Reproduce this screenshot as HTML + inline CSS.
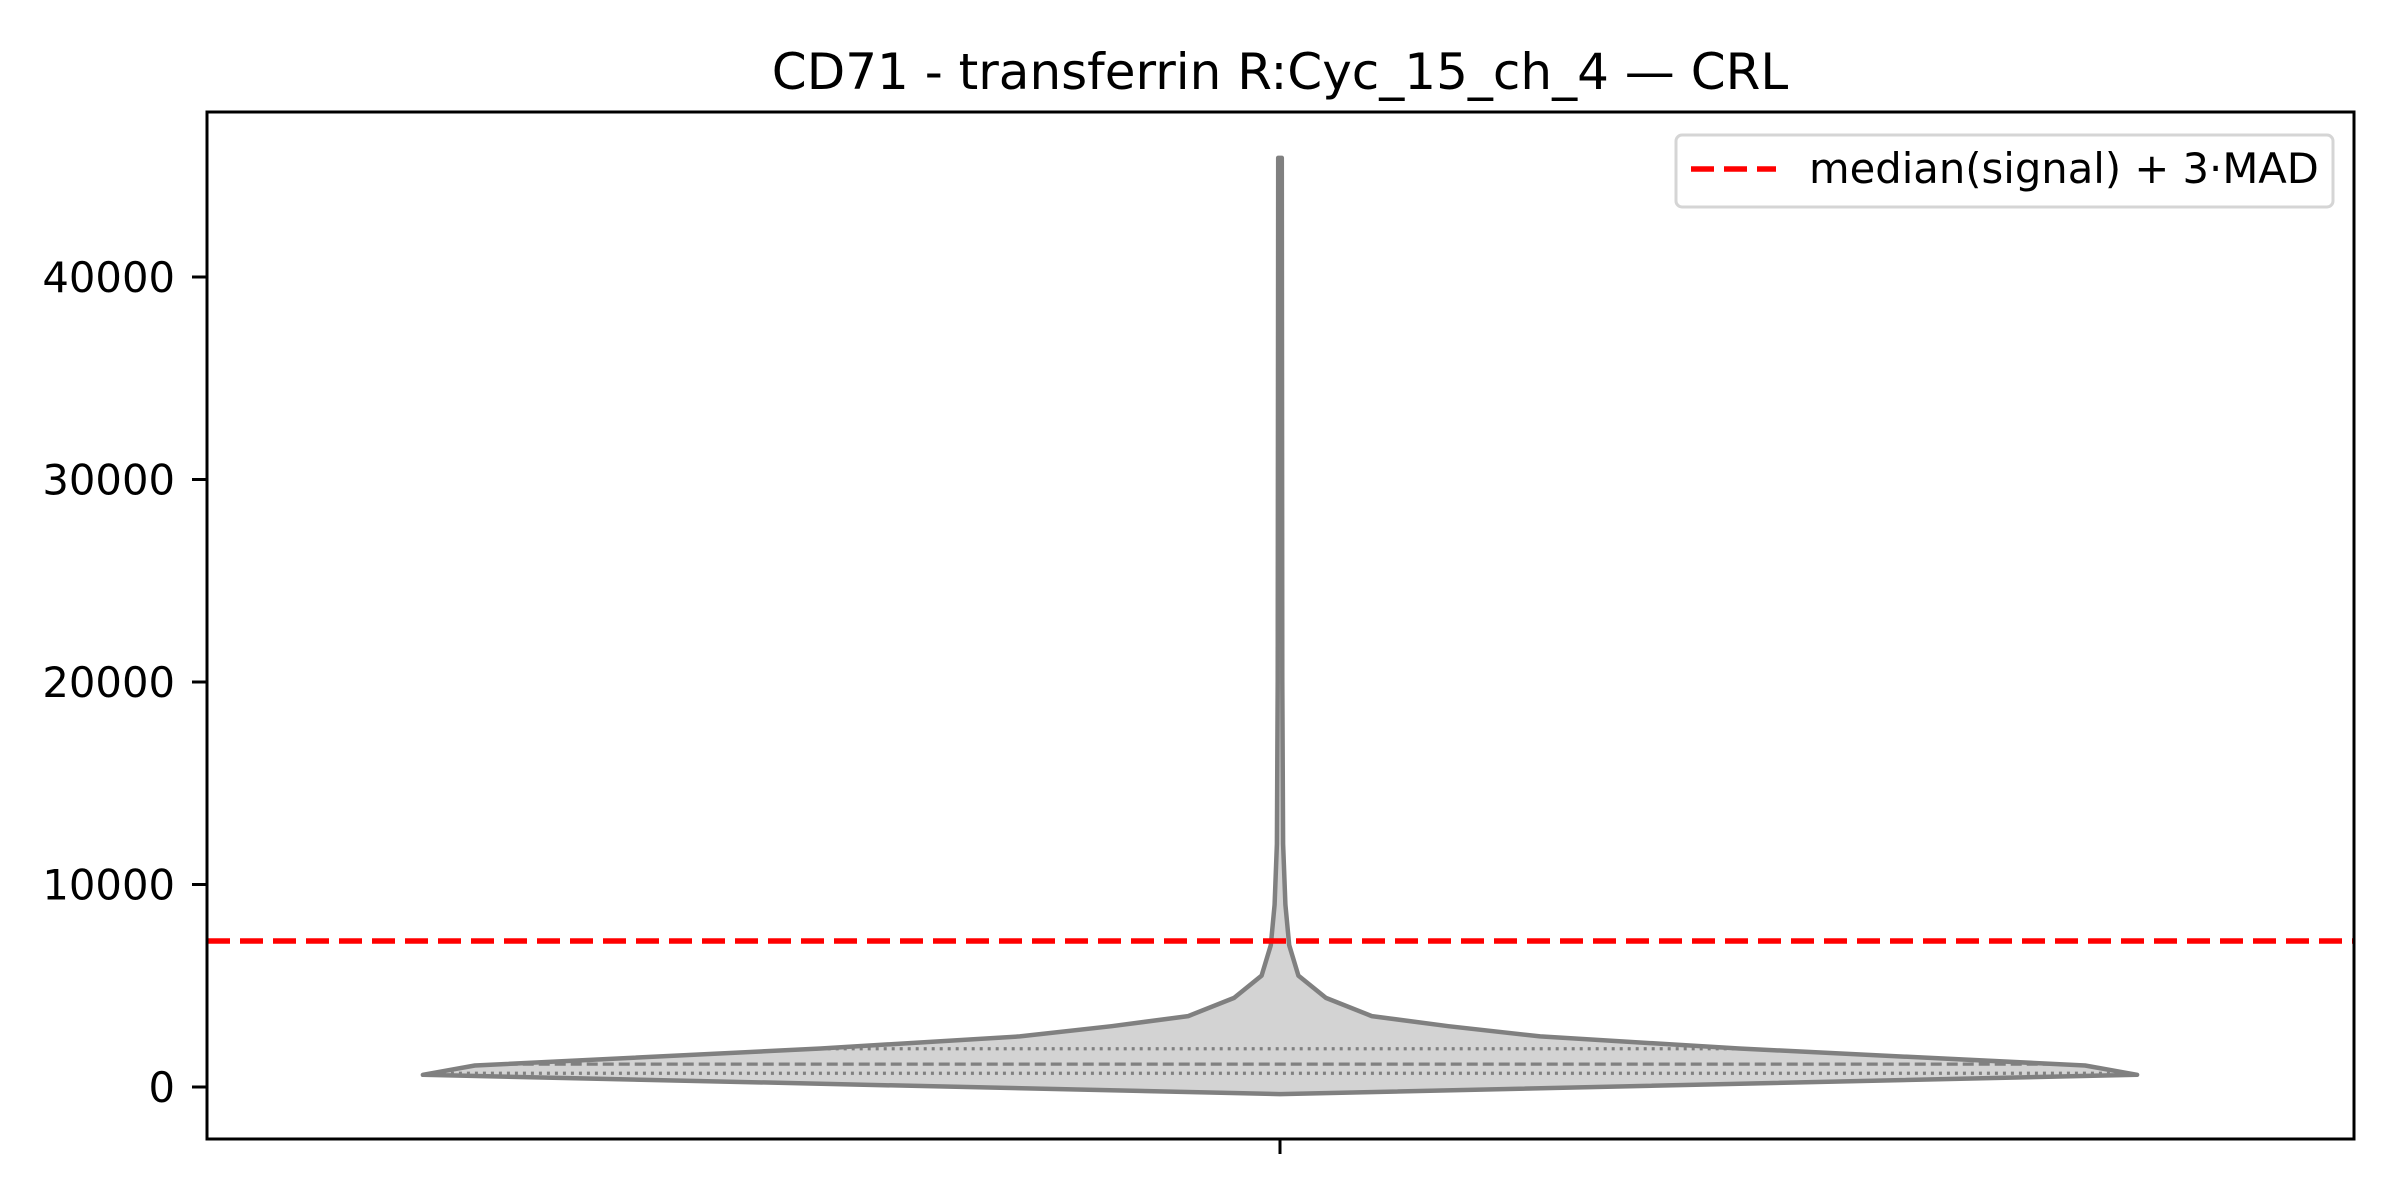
<!DOCTYPE html>
<html><head><meta charset="utf-8"><style>
html,body{margin:0;padding:0;background:#fff;}
svg{display:block;font-family:"DejaVu Sans","Liberation Sans",sans-serif;}
</style></head><body>
<svg id="chart" width="2400" height="1200" viewBox="0 0 2400 1200">
<rect x="0" y="0" width="2400" height="1200" fill="#fff"/>
<text x="1280" y="89" text-anchor="middle" font-size="50" fill="#000">CD71 - transferrin R:Cyc_15_ch_4 — CRL</text>
<g id="plot"></g>
<rect x="207" y="112" width="2147" height="1027" fill="none" stroke="#000" stroke-width="3"/>
<g id="yaxis"></g>
<line x1="1280" y1="1139" x2="1280" y2="1154" stroke="#000" stroke-width="3"/>
<g>
<rect x="1676" y="135" width="657" height="72" rx="6" fill="#fff" fill-opacity="0.8" stroke="#d5d5d5" stroke-width="3"/>
<line x1="1691" y1="169" x2="1776" y2="169" stroke="#ff0000" stroke-width="5.5" stroke-dasharray="23,10"/>
<text x="1809" y="183" font-size="41.7" fill="#000">median(signal) + 3·MAD</text>
</g>
</svg>
<script>
const yTicks=[0,10000,20000,30000,40000];
const yTickLabels=["0","10000","20000","30000","40000"];
const densityValues=[-350,600,1060,1900,2500,3000,3500,4400,5500,7000,9000,12000,20000,45880];
const densityHalfWidthsUpper=[0,560,526,300,170,110,60,30,12,6,3.5,2,1.5,1.2];
const lowerValues=[-350,600];
const lowerHalfWidths=[0,560];
const quartileValues=[680,1130,1890];
const quartileStyles=["dotted","dashed","dotted"];
const thresholdValue=7210;
const yMin=-2568, yMax=48148;
const px0=207, px1=2354, py0=112, py1=1139, cx=1280, scaleW=1.5306;
function yScale(v){return py1-(v-yMin)/(yMax-yMin)*(py1-py0);}
function wScale(w){return w*scaleW;}
const NS="http://www.w3.org/2000/svg";
const plot=document.getElementById('plot');
const yaxis=document.getElementById('yaxis');
function mk(tag,attrs,parent){const e=document.createElementNS(NS,tag);for(const k in attrs)e.setAttribute(k,attrs[k]);parent.appendChild(e);return e;}
function halfWidthAt(v){
  if(v<=600){for(let i=0;i<lowerValues.length-1;i++){if(v>=lowerValues[i]&&v<=lowerValues[i+1]){const t=(v-lowerValues[i])/(lowerValues[i+1]-lowerValues[i]);return lowerHalfWidths[i]+t*(lowerHalfWidths[i+1]-lowerHalfWidths[i]);}}return 0;}
  for(let i=0;i<densityValues.length-1;i++){if(v>=densityValues[i]&&v<=densityValues[i+1]){const t=(v-densityValues[i])/(densityValues[i+1]-densityValues[i]);return densityHalfWidthsUpper[i]+t*(densityHalfWidthsUpper[i+1]-densityHalfWidthsUpper[i]);}}
  return 0;
}
let right=[],left=[];
for(let i=0;i<densityValues.length;i++){const y=yScale(densityValues[i]);const w=wScale(densityHalfWidthsUpper[i]);right.push([cx+w,y]);left.push([cx-w,y]);}
let pts=right.concat(left.reverse());
const d="M"+pts.map(p=>p[0].toFixed(1)+","+p[1].toFixed(1)).join(" L")+" Z";
const violin=mk('path',{d:d,fill:'#d3d3d3',stroke:'#808080','stroke-width':'4.5','stroke-linejoin':'round'},plot);


quartileValues.forEach((q,i)=>{
  const y=yScale(q);const w=wScale(halfWidthAt(q))-3;
  const l=mk('line',{x1:cx-w,y1:y,x2:cx+w,y2:y,stroke:'#808080','stroke-width':'3.2','stroke-dasharray':quartileStyles[i]==='dashed'?'11,5':'3,5'},plot);
  
  
});
const th=mk('line',{x1:px0,y1:yScale(thresholdValue),x2:px1,y2:yScale(thresholdValue),stroke:'#ff0000','stroke-width':'5.5','stroke-dasharray':'23,10'},plot);


yTicks.forEach((t,i)=>{
  const y=yScale(t);
  const tk=mk('line',{x1:px0-15,y1:y,x2:px0,y2:y,stroke:'#000','stroke-width':'3'},yaxis);
  
  
  const tx=mk('text',{x:px0-32,y:y+15,'text-anchor':'end','font-size':'41.7',fill:'#000'},yaxis);
  tx.textContent=yTickLabels[i];
  
  
});
</script>
</body></html>
